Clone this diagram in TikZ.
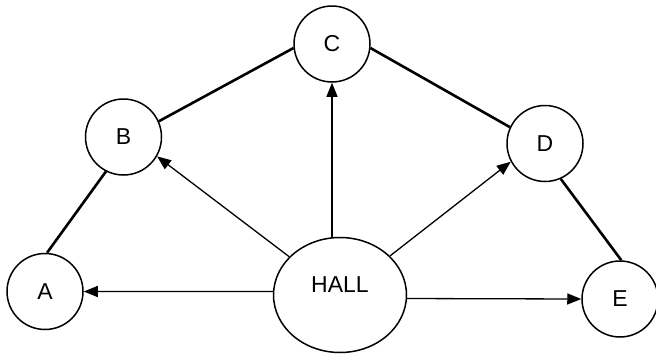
\documentclass[tikz,border=0pt]{standalone}
\usepackage{fontspec}
\setmainfont{Liberation Sans}
\usetikzlibrary{arrows.meta,shapes.geometric}
\begin{document}
\begin{tikzpicture}[x=1pt,y=-1pt,
  room/.style={circle,draw,line width=1.5pt,inner sep=0pt,minimum size=76pt,
    font=\fontsize{23}{27}\selectfont},
  hallbox/.style={ellipse,draw,line width=1.5pt,inner sep=0pt,minimum width=133pt,minimum height=115pt},
  link/.style={line width=2.6pt},
  go/.style={line width=1.3pt,-{Triangle[length=14pt,width=11pt]}}]
\useasboundingbox (0,0) rectangle (656,359);
\node[room] (C) at (332,44) {C};
\node[room] (B) at (123.5,137) {B};
\node[room] (D) at (545,143.5) {D};
\node[room] (A) at (45,291.5) {A};
\node[room] (E) at (620,299) {E};
\node[hallbox,label={[font=\fontsize{23}{27}\selectfont,yshift=10pt]center:HALL}] (HALL) at (340,295) {};
\draw[link] (B.24) -- (C.186);
\draw[link] (C.354) -- (D.155);
\draw[link] (B.243) -- (A.87);
\draw[link] (D.294) -- (E.88);
\draw[go] (C.south |- HALL.north) -- (C.south);
\draw[go] (HALL.143) -- (B.330);
\draw[go] (HALL.38) -- (D.208);
\draw[go] (HALL.177) -- (A.0);
\draw[go] (HALL.357) -- (E.180);
\end{tikzpicture}
\end{document}
